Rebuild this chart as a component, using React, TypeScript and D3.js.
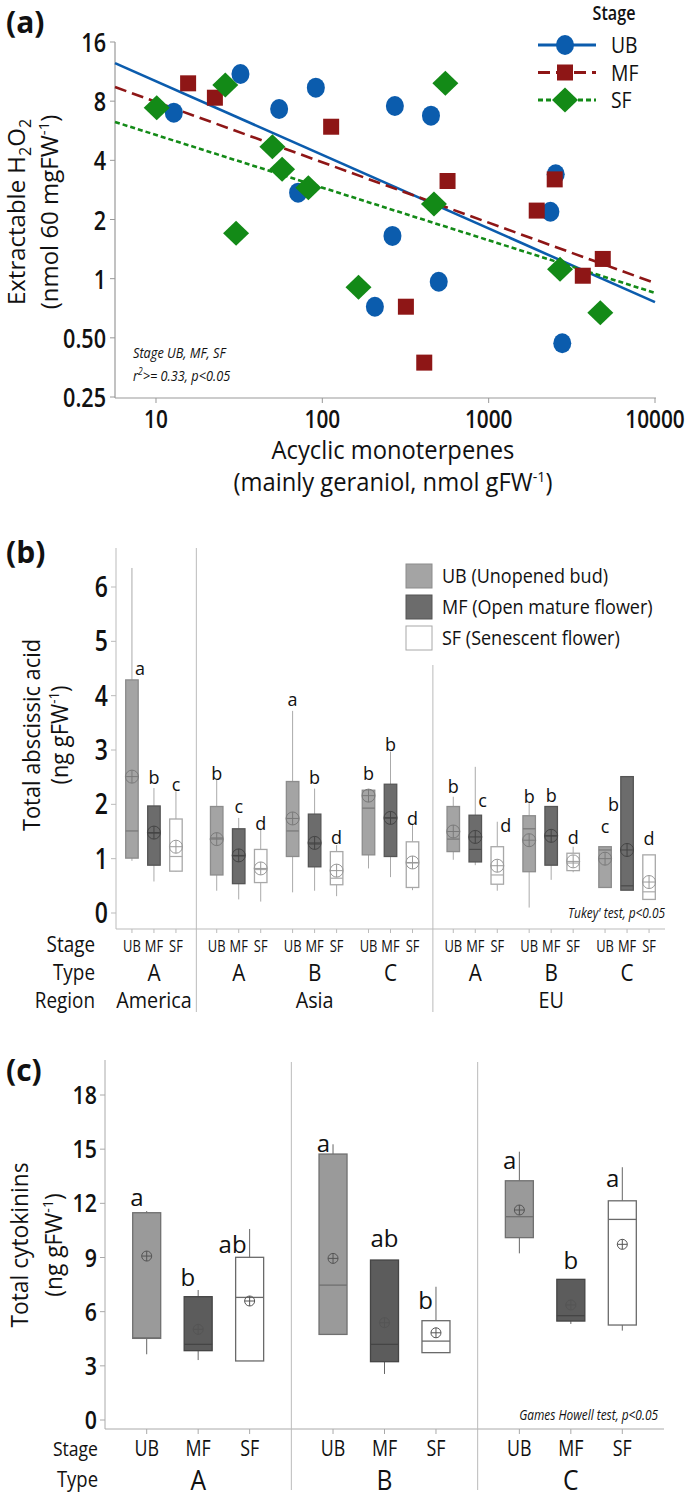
import React from 'react';
import * as d3 from 'd3';

const W = 685, H = 1497;
const FONT = "'Open Sans', 'Noto Sans', sans-serif";

// ---------- Panel (a) data ----------
const stageNames = ['UB', 'MF', 'SF'];
const ubX = [12.8, 32.2, 55, 91.4, 273, 450, 2530, 71.5, 2350, 264, 501, 207, 2770];
const ubY = [6.99, 11.0, 7.3, 9.37, 7.56, 6.75, 3.4, 2.74, 2.19, 1.65, 0.965, 0.72, 0.469];
const mfX = [15.6, 22.6, 113, 566, 2495, 1945, 4853, 3681, 318, 410];
const mfY = [9.86, 8.33, 5.93, 3.14, 3.2, 2.22, 1.26, 1.035, 0.72, 0.374];
const sfX = [10.1, 26.1, 50.1, 57.3, 82.4, 549, 469, 30.3, 165, 2686, 4690];
const sfY = [7.41, 9.67, 4.69, 3.6, 2.9, 9.86, 2.4, 1.7, 0.904, 1.116, 0.671];
const fitX = [5.67, 10000];
const ubFit = [12.5, 0.76];
const mfFit = [9.44, 0.95];
const sfFit = [6.27, 0.846];
const xTicksA = [10, 100, 1000, 10000];
const yTicksA = [0.25, 0.5, 1, 2, 4, 8, 16];
const yTickLabelsA = ['0.25', '0.50', '1', '2', '4', '8', '16'];

// ---------- Panel (b) data ----------
const abaRegions = ['America', 'Asia', 'EU'];
const abaGroupRegion = ['America', 'Asia', 'Asia', 'Asia', 'EU', 'EU', 'EU'];
const abaGroupType = ['A', 'A', 'B', 'C', 'A', 'B', 'C'];
const abaLow = [0.96, 0.58, 0.76, 0.41, 0.25, 0.21, 0.38, 0.41, 0.31, 0.82, 0.66, 0.42, 0.98, 0.88, 0.41, 0.1, 0.61, 0.75, 0.47, 0.42, 0.25];
const abaQ1 = [1.01, 0.88, 0.77, 0.7, 0.54, 0.56, 1.04, 0.85, 0.52, 1.07, 1.04, 0.47, 1.13, 0.94, 0.53, 0.76, 0.88, 0.78, 0.47, 0.42, 0.25];
const abaMed = [1.51, 1.47, 1.04, 1.38, 1.05, 0.8, 1.51, 1.27, 0.64, 1.93, 1.75, 0.92, 1.36, 1.17, 0.7, 1.55, 1.42, 0.92, 1.16, 0.5, 0.39];
const abaQ3 = [4.29, 1.97, 1.73, 1.96, 1.55, 1.17, 2.42, 1.82, 1.13, 2.26, 2.37, 1.31, 1.96, 1.8, 1.22, 1.79, 1.96, 1.1, 1.22, 2.51, 1.07];
const abaHigh = [6.35, 2.3, 2.24, 2.45, 1.75, 1.55, 3.72, 2.29, 1.25, 2.27, 2.97, 1.62, 2.14, 2.69, 1.68, 2.02, 1.96, 1.22, 1.22, 2.51, 1.07];
const abaMean = [2.51, 1.48, 1.22, 1.36, 1.06, 0.82, 1.74, 1.29, 0.78, 2.16, 1.75, 0.93, 1.5, 1.4, 0.87, 1.34, 1.42, 0.95, 1.0, 1.16, 0.57];
const abaLetters = ['a', 'b', 'c', 'b', 'c', 'd', 'a', 'b', 'd', 'b', 'b', 'd', 'b', 'c', 'd', 'b', 'b', 'd', 'c', 'b', 'd'];
const abaLetterAt = [4.38, 2.37, 2.25, 2.45, 1.84, 1.53, 3.81, 2.37, 1.27, 2.45, 2.98, 1.62, 2.21, 1.95, 1.49, 2.02, 2.04, 1.27, 1.47, 1.88, 1.25];
const abaLetterSide = [1, 0, 0, 0, 0, 0, 0, 0, 0, 0, 0, 0, 0, 1, 1, 0, 0, 0, 0, -1, 0];
const yTicksB = [0, 1, 2, 3, 4, 5, 6];
const abaLegendLabels = ['UB (Unopened bud)', 'MF (Open mature flower)', 'SF (Senescent flower)'];

// ---------- Panel (c) data ----------
const ckTypes = ['A', 'B', 'C'];
const ckLow = [3.64, 3.32, 3.27, 4.74, 2.55, 3.73, 9.23, 5.32, 4.95];
const ckQ1 = [4.52, 3.84, 3.27, 4.74, 3.23, 3.73, 10.1, 5.48, 5.26];
const ckMed = [4.55, 4.19, 6.79, 7.47, 4.19, 4.37, 11.26, 5.78, 11.11];
const ckQ3 = [11.48, 6.83, 9.01, 14.73, 8.86, 5.5, 13.25, 7.79, 12.14];
const ckHigh = [11.57, 7.2, 10.58, 15.27, 8.86, 7.38, 14.86, 7.79, 14.0];
const ckMean = [9.08, 5.02, 6.59, 8.95, 5.39, 4.83, 11.63, 6.37, 9.73];
const ckLetters = ['a', 'b', 'ab', 'a', 'ab', 'b', 'a', 'b', 'a'];
const ckLetterAt = [11.85, 7.42, 9.25, 14.84, 9.58, 6.15, 13.9, 8.36, 12.9];
const ckLetterSide = [-1, -1, -1, -1, 0, -1, -1, 0, -1];
const yTicksC = [0, 3, 6, 9, 12, 15, 18];

// ---------- helpers ----------
type TP = { x: number; y: number; size?: number; anchor?: string; weight?: number; sx?: number; rotate?: number; italic?: boolean; fill?: string; children?: any };
function T({ x, y, size = 16, anchor = 'middle', weight = 400, sx = 1, rotate = 0, italic = false, fill = '#111', children }: TP) {
  const tf = `translate(${x},${y})${rotate ? ` rotate(${rotate})` : ''} scale(${sx},1)`;
  return (
    <text transform={tf} fontSize={size} textAnchor={anchor} fontWeight={weight} fontStyle={italic ? 'italic' : 'normal'} fill={fill} fontFamily={FONT}>
      {children}
    </text>
  );
}

function MeanMark({ cx, cy, r, stroke }: { cx: number; cy: number; r: number; stroke: string }) {
  return (
    <g stroke={stroke} strokeWidth={1} fill="none">
      <circle cx={cx} cy={cy} r={r} />
      <line x1={cx - r} x2={cx + r} y1={cy} y2={cy} />
      <line x1={cx} x2={cx} y1={cy - r} y2={cy + r} />
    </g>
  );
}

const colors = { UB: '#0b5cad', MF: '#8e1616', SF: '#138a17' };

function Marker({ kind, cx, cy }: { kind: string; cx: number; cy: number }) {
  if (kind === 'UB') return <ellipse cx={cx} cy={cy} rx={9} ry={10} fill={colors.UB} />;
  if (kind === 'MF') return <rect x={cx - 8} y={cy - 8} width={16} height={16} fill={colors.MF} />;
  return <path d={`M${cx - 13},${cy} L${cx},${cy - 12.5} L${cx + 13},${cy} L${cx},${cy + 12.5} Z`} fill={colors.SF} />;
}

export default function App() {
  // ---------- (a) scales ----------
  const xA = d3.scaleLog().domain([5.67, 10000]).range([115, 655]);
  const yA = d3.scaleLog().base(2).domain([0.25, 16]).range([397, 42]);
  const seriesA = [
    { k: 'UB', xs: ubX, ys: ubY, fit: ubFit, dash: undefined },
    { k: 'MF', xs: mfX, ys: mfY, fit: mfFit, dash: '12,6' },
    { k: 'SF', xs: sfX, ys: sfY, fit: sfFit, dash: '5,3' },
  ];
  const lineGen = d3.line<[number, number]>().x(d => xA(d[0])).y(d => yA(d[1]));

  // ---------- (b) scales ----------
  const regionIdx = abaGroupRegion.map(r => abaRegions.indexOf(r));
  const gapB = 0.117;
  const nG = abaGroupType.length;
  const xB = d3.scaleLinear().domain([-0.5, nG - 0.5 + 2 * gapB]).range([116, 665]);
  const gCenterB = (g: number) => xB(g + regionIdx[g] * gapB);
  const offB = d3.scalePoint().domain(stageNames).range([-22, 22]);
  const yB = d3.scaleLinear().domain([0, 6]).range([913, 587]);
  const bwB = 12.5;
  const fillB: Record<string, string> = { UB: '#a4a4a4', MF: '#6c6c6c', SF: '#ffffff' };
  const strokeB: Record<string, string> = { UB: '#8c8c8c', MF: '#555555', SF: '#a8a8a8' };
  const medB: Record<string, string> = { UB: '#777', MF: '#4a4a4a', SF: '#aaa' };
  const meanB: Record<string, string> = { UB: '#7a7a7a', MF: '#444', SF: '#999' };

  // ---------- (c) scales ----------
  const xC = d3.scaleBand().domain(ckTypes).range([105, 664]);
  const offC = d3.scalePoint().domain(stageNames).range([0, xC.bandwidth()]).padding(0.81);
  const yC = d3.scaleLinear().domain([0, 18]).range([1420, 1095]);
  const bwC = 28;
  const fillC: Record<string, string> = { UB: '#9a9a9a', MF: '#5c5c5c', SF: '#ffffff' };
  const strokeC: Record<string, string> = { UB: '#707070', MF: '#454545', SF: '#6a6a6a' };

  const boxesB: any[] = [];
  abaGroupType.forEach((t, g) => {
    stageNames.forEach((s, si) => {
      const k = g * 3 + si;
      boxesB.push({ k, s, cx: gCenterB(g) + (offB(s) as number) });
    });
  });
  const boxesC: any[] = [];
  ckTypes.forEach((t, g) => {
    stageNames.forEach((s, si) => {
      const k = g * 3 + si;
      boxesC.push({ k, s, cx: (xC(t) as number) + (offC(s) as number) });
    });
  });

  const regionSpans = abaRegions.map((r) => {
    const gs = abaGroupRegion.map((rr, i) => (rr === r ? i : -1)).filter(i => i >= 0);
    return { r, first: gs[0], last: gs[gs.length - 1] };
  });

  return (
    <svg width={W} height={H} style={{ position: 'absolute', left: 0, top: 0, background: '#fff' }} fontFamily={FONT}>
      <rect width={W} height={H} fill="#fff" />
      {/* ================= (a) ================= */}
      <T x={6} y={33} size={30} weight={700} anchor="start">(a)</T>
      <line x1={115} x2={115} y1={yA(16)} y2={398} stroke="#999" strokeWidth={1.2} />
      <line x1={115} x2={656} y1={398} y2={398} stroke="#999" strokeWidth={1.2} />
      {yTicksA.map((v, i) => (
        <g key={'ya' + i}>
          <line x1={110} x2={115} y1={yA(v)} y2={yA(v)} stroke="#999" />
          <T x={106} y={yA(v) + 10} size={27} weight={600} anchor="end" sx={0.8}>{yTickLabelsA[i]}</T>
        </g>
      ))}
      {xTicksA.map(v => (
        <g key={'xa' + v}>
          <line x1={xA(v)} x2={xA(v)} y1={398} y2={403} stroke="#999" />
          <T x={xA(v)} y={428} size={26} weight={600} sx={0.8}>{v}</T>
        </g>
      ))}
      <T x={393} y={459} size={25} sx={0.95}>Acyclic monoterpenes</T>
      <T x={393} y={491} size={25} sx={0.95}>
        (mainly geraniol, nmol gFW<tspan dy={-9} fontSize={15}>-1</tspan><tspan dy={9}>)</tspan>
      </T>
      <T x={25} y={212} size={24} rotate={-90}>
        Extractable H<tspan dy={6} fontSize={16}>2</tspan><tspan dy={-6}>O</tspan><tspan dy={6} fontSize={16}>2</tspan>
      </T>
      <T x={58} y={212} size={24} rotate={-90}>
        (nmol  60 mgFW<tspan dy={-9} fontSize={15}>-1</tspan><tspan dy={9}>)</tspan>
      </T>
      {seriesA.map(sr => (
        <path key={'fit' + sr.k} d={lineGen([[fitX[0], sr.fit[0]], [fitX[1], sr.fit[1]]]) || ''} stroke={(colors as any)[sr.k]} strokeWidth={2.6} fill="none" strokeDasharray={sr.dash} />
      ))}
      {seriesA.map(sr => sr.xs.map((xv, i) => <Marker key={sr.k + i} kind={sr.k} cx={xA(xv)} cy={yA(sr.ys[i])} />))}
      <T x={133} y={358} size={15} italic anchor="start" sx={0.85}>Stage UB, MF, SF</T>
      <T x={133} y={381} size={15} italic anchor="start" sx={0.85}>
        r<tspan dy={-6} fontSize={10}>2</tspan><tspan dy={6}>&gt;= 0.33, p&lt;0.05</tspan>
      </T>
      {/* legend (a) */}
      <T x={614} y={20} size={19} weight={600} sx={0.85}>Stage</T>
      {seriesA.map((sr, i) => {
        const ly = 45 + i * 27.5;
        return (
          <g key={'lg' + sr.k}>
            <line x1={538} x2={596} y1={ly} y2={ly} stroke={(colors as any)[sr.k]} strokeWidth={3} strokeDasharray={sr.dash} />
            <Marker kind={sr.k} cx={565} cy={ly} />
            <T x={611} y={ly + 8} size={22} anchor="start" sx={0.88}>{sr.k}</T>
          </g>
        );
      })}

      {/* ================= (b) ================= */}
      <T x={6} y={563} size={30} weight={700} anchor="start">(b)</T>
      <line x1={116} x2={116} y1={548} y2={929} stroke="#bbb" />
      <line x1={116} x2={665} y1={929} y2={929} stroke="#bbb" />
      {regionSpans.slice(1).map((rs, i) => {
        const prev = regionSpans[i];
        const x = (gCenterB(prev.last) + gCenterB(rs.first)) / 2;
        return <line key={'sep' + i} x1={x} x2={x} y1={i === 0 ? 548 : 665} y2={1012} stroke="#bbb" />;
      })}
      {yTicksB.map(v => (
        <g key={'yb' + v}>
          <line x1={111} x2={116} y1={yB(v)} y2={yB(v)} stroke="#bbb" />
          <T x={108} y={yB(v) + 10} size={28} weight={600} anchor="end" sx={0.82}>{v}</T>
        </g>
      ))}
      <T x={40} y={735} size={23} rotate={-90} sx={0.95}>Total abscissic acid</T>
      <T x={68} y={735} size={23} rotate={-90} sx={0.95}>
        (ng gFW<tspan dy={-9} fontSize={14}>-1</tspan><tspan dy={9}>)</tspan>
      </T>
      {boxesB.map(b => {
        const { k, s, cx } = b;
        return (
          <g key={'bb' + k}>
            <line x1={cx} x2={cx} y1={yB(abaHigh[k])} y2={yB(abaQ3[k])} stroke="#aaa" />
            <line x1={cx} x2={cx} y1={yB(abaQ1[k])} y2={yB(abaLow[k])} stroke="#aaa" />
            <rect x={cx - bwB / 2} y={yB(abaQ3[k])} width={bwB} height={yB(abaQ1[k]) - yB(abaQ3[k])} fill={fillB[s]} stroke={strokeB[s]} strokeWidth={1.3} />
            <line x1={cx - bwB / 2} x2={cx + bwB / 2} y1={yB(abaMed[k])} y2={yB(abaMed[k])} stroke={medB[s]} strokeWidth={1.2} />
            <MeanMark cx={cx} cy={yB(abaMean[k])} r={6.5} stroke={meanB[s]} />
            <line x1={cx} x2={cx} y1={929} y2={933} stroke="#bbb" />
            <T x={abaLetterSide[k] === 1 ? cx + 3 : abaLetterSide[k] === -1 ? cx - 8 : cx} y={yB(abaLetterAt[k])} size={18} anchor={abaLetterSide[k] === 1 ? 'start' : abaLetterSide[k] === -1 ? 'end' : 'middle'}>{abaLetters[k]}</T>
            <T x={cx} y={952} size={17} sx={0.76}>{s}</T>
          </g>
        );
      })}
      <T x={665} y={918} size={14} italic anchor="end" sx={0.85}>Tukey' test, p&lt;0.05</T>
      {/* legend (b) */}
      {stageNames.map((s, i) => {
        const ty = 564 + i * 31;
        return (
          <g key={'lb' + s}>
            <rect x={406} y={ty} width={26} height={24} fill={fillB[s]} stroke={strokeB[s]} />
            <T x={442} y={ty + 19} size={20} anchor="start" sx={0.9}>{abaLegendLabels[i]}</T>
          </g>
        );
      })}
      <T x={95} y={952} size={21} anchor="end" weight={500} sx={0.9}>Stage</T>
      <T x={95} y={980} size={21} anchor="end" weight={500} sx={0.9}>Type</T>
      <T x={95} y={1008} size={21} anchor="end" weight={500} sx={0.9}>Region</T>
      {abaGroupType.map((t, g) => (
        <T key={'tb' + g} x={gCenterB(g)} y={981} size={23} sx={0.9}>{t}</T>
      ))}
      {regionSpans.map(rs => (
        <T key={'rg' + rs.r} x={(gCenterB(rs.first) + gCenterB(rs.last)) / 2} y={1008} size={22} weight={500} sx={0.9}>{rs.r}</T>
      ))}

      {/* ================= (c) ================= */}
      <T x={6} y={1081} size={30} weight={700} anchor="start">(c)</T>
      <line x1={105} x2={105} y1={1060} y2={1429} stroke="#aaa" />
      <line x1={105} x2={664} y1={1429} y2={1429} stroke="#aaa" />
      {ckTypes.slice(1).map(t => (
        <line key={'sc' + t} x1={xC(t)} x2={xC(t)} y1={1062} y2={1490} stroke="#bbb" />
      ))}
      {yTicksC.map(v => (
        <g key={'yc' + v}>
          <line x1={100} x2={105} y1={yC(v)} y2={yC(v)} stroke="#aaa" />
          <T x={97} y={yC(v) + 9} size={26} weight={600} anchor="end" sx={0.82}>{v}</T>
        </g>
      ))}
      <T x={28} y={1245} size={24} rotate={-90} sx={0.95}>Total cytokinins</T>
      <T x={62} y={1245} size={24} rotate={-90} sx={0.95}>
        (ng gFW<tspan dy={-9} fontSize={15}>-1</tspan><tspan dy={9}>)</tspan>
      </T>
      {boxesC.map(b => {
        const { k, s, cx } = b;
        const side = ckLetterSide[k];
        return (
          <g key={'bc' + k}>
            <line x1={cx} x2={cx} y1={yC(ckHigh[k])} y2={yC(ckQ3[k])} stroke="#666" />
            <line x1={cx} x2={cx} y1={yC(ckQ1[k])} y2={yC(ckLow[k])} stroke="#666" />
            <rect x={cx - bwC / 2} y={yC(ckQ3[k])} width={bwC} height={yC(ckQ1[k]) - yC(ckQ3[k])} fill={fillC[s]} stroke={strokeC[s]} strokeWidth={1.3} />
            <line x1={cx - bwC / 2} x2={cx + bwC / 2} y1={yC(ckMed[k])} y2={yC(ckMed[k])} stroke={strokeC[s]} strokeWidth={1.3} />
            <MeanMark cx={cx} cy={yC(ckMean[k])} r={5} stroke="#555" />
            <line x1={cx} x2={cx} y1={1429} y2={1434} stroke="#aaa" />
            <T x={side === -1 ? cx - 3 : cx} y={yC(ckLetterAt[k])} size={24} anchor={side === -1 ? 'end' : 'middle'}>{ckLetters[k]}</T>
            <T x={cx} y={1456} size={21} sx={0.85}>{s}</T>
          </g>
        );
      })}
      <T x={658} y={1420} size={14} italic anchor="end" sx={0.85}>Games Howell test, p&lt;0.05</T>
      <T x={98} y={1456} size={20} anchor="end" weight={500} sx={0.88}>Stage</T>
      <T x={98} y={1487} size={21} anchor="end" weight={500} sx={0.88}>Type</T>
      {ckTypes.map(t => (
        <T key={'tc' + t} x={(xC(t) as number) + xC.bandwidth() / 2} y={1490} size={28} weight={500} sx={0.88}>{t}</T>
      ))}
    </svg>
  );
}
